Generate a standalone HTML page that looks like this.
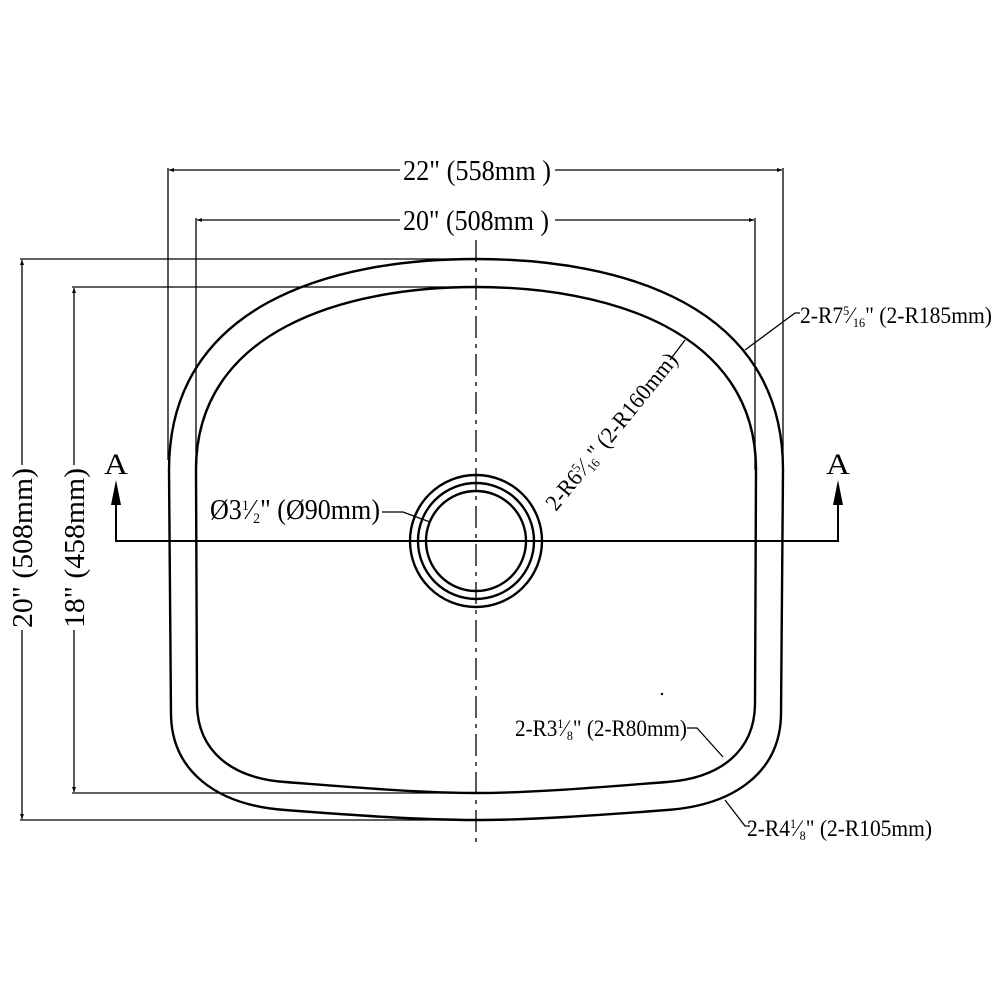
<!DOCTYPE html>
<html><head><meta charset="utf-8"><style>html,body{margin:0;padding:0;background:#fff}svg{display:block}</style></head>
<body>
<svg width="1000" height="1000" viewBox="0 0 1000 1000" xmlns="http://www.w3.org/2000/svg" font-family="Liberation Serif, serif" fill="#000">
<defs><marker id="ar" viewBox="0 0 10 10" refX="10" refY="5" markerWidth="8" markerHeight="5" orient="auto-start-reverse" markerUnits="userSpaceOnUse"><path d="M0,1 L10,5 L0,9z"/></marker></defs>
<g stroke="#000" stroke-width="1.3" fill="none">
<line x1="168" y1="168" x2="168" y2="460"/>
<line x1="783" y1="168" x2="783" y2="460"/>
<line x1="196" y1="218" x2="196" y2="470"/>
<line x1="755" y1="218" x2="755" y2="470"/>
<line x1="20" y1="259" x2="476" y2="259"/>
<line x1="72" y1="287" x2="476" y2="287"/>
<line x1="20" y1="820" x2="476" y2="820"/>
<line x1="72" y1="793" x2="476" y2="793"/>
<line x1="400" y1="170" x2="169" y2="170" marker-end="url(#ar)"/>
<line x1="555" y1="170" x2="782" y2="170" marker-end="url(#ar)"/>
<line x1="400" y1="220" x2="197" y2="220" marker-end="url(#ar)"/>
<line x1="555" y1="220" x2="754" y2="220" marker-end="url(#ar)"/>
<line x1="22" y1="465" x2="22" y2="260" marker-end="url(#ar)"/>
<line x1="22" y1="630" x2="22" y2="819" marker-end="url(#ar)"/>
<line x1="74" y1="465" x2="74" y2="288" marker-end="url(#ar)"/>
<line x1="74" y1="630" x2="74" y2="792" marker-end="url(#ar)"/>
<line x1="476" y1="240" x2="476" y2="842" stroke-dasharray="22,6,4,6"/>
<polyline points="116,492 116,541 838,541 838,492" stroke-width="2"/>
<polyline points="382,512 403,512 430,522"/>
<polyline points="745,350 795,313 800,313"/>
<polyline points="685,340 670,360"/>
<polyline points="687,728 697,728 723,757"/>
<polyline points="725,800 745,826 750,826"/>
</g>
<path d="M116,480 L111,505 L121,505z"/>
<path d="M838,480 L833,505 L843,505z"/>
<g stroke="#000" stroke-width="2.4" fill="none">
<path d="M476,259 C330,259 169,305 169,470 L171,715 C172,770 215,805 285,810 C350,815 420,820 476,820 C532,820 602,815 667,810 C737,805 780,770 781,715 L783,470 C783,305 622,259 476,259Z"/>
<path d="M476,287 C345,287 196,330 196,470 L197,705 C198,750 230,778 285,782 C350,787 420,793 476,793 C532,793 602,787 667,782 C722,778 754,750 755,705 L756,470 C756,330 607,287 476,287Z"/>
<circle cx="476" cy="541" r="66"/>
<circle cx="476" cy="541" r="58"/>
<circle cx="476" cy="541" r="50"/>
</g>
<circle cx="662" cy="694" r="1.2"/>
<g font-size="28">
<text x="403" y="180" textLength="148" lengthAdjust="spacingAndGlyphs">22" (558mm )</text>
<text x="403" y="230" textLength="146" lengthAdjust="spacingAndGlyphs">20" (508mm )</text>
<text x="104" y="474" font-size="30" textLength="24" lengthAdjust="spacingAndGlyphs">A</text>
<text x="826" y="474" font-size="30" textLength="24" lengthAdjust="spacingAndGlyphs">A</text>
<text x="210" y="519" textLength="170" lengthAdjust="spacingAndGlyphs">Ø3<tspan font-size="15" dy="-9">1</tspan><tspan dy="9">⁄</tspan><tspan font-size="15" dy="4">2</tspan><tspan dy="-4">" (Ø90mm)</tspan></text>
<text transform="translate(32,628) rotate(-90)" textLength="160" lengthAdjust="spacingAndGlyphs">20" (508mm)</text>
<text transform="translate(84,628) rotate(-90)" textLength="160" lengthAdjust="spacingAndGlyphs">18" (458mm)</text>
<text font-size="23" transform="translate(556,512) rotate(-51)" textLength="195" lengthAdjust="spacingAndGlyphs">2-R6<tspan font-size="13" dy="-8">5</tspan><tspan dy="8">⁄</tspan><tspan font-size="13" dy="4">16</tspan><tspan dy="-4">"  (2-R160mm)</tspan></text>
<text font-size="23" x="800" y="323" textLength="192" lengthAdjust="spacingAndGlyphs">2-R7<tspan font-size="13" dy="-8">5</tspan><tspan dy="8">⁄</tspan><tspan font-size="13" dy="4">16</tspan><tspan dy="-4">"  (2-R185mm)</tspan></text>
<text font-size="23" x="515" y="736" textLength="172" lengthAdjust="spacingAndGlyphs">2-R3<tspan font-size="13" dy="-8">1</tspan><tspan dy="8">⁄</tspan><tspan font-size="13" dy="4">8</tspan><tspan dy="-4">"  (2-R80mm)</tspan></text>
<text font-size="23" x="747" y="836" textLength="185" lengthAdjust="spacingAndGlyphs">2-R4<tspan font-size="13" dy="-8">1</tspan><tspan dy="8">⁄</tspan><tspan font-size="13" dy="4">8</tspan><tspan dy="-4">"  (2-R105mm)</tspan></text>
</g>
</svg>
</body></html>
